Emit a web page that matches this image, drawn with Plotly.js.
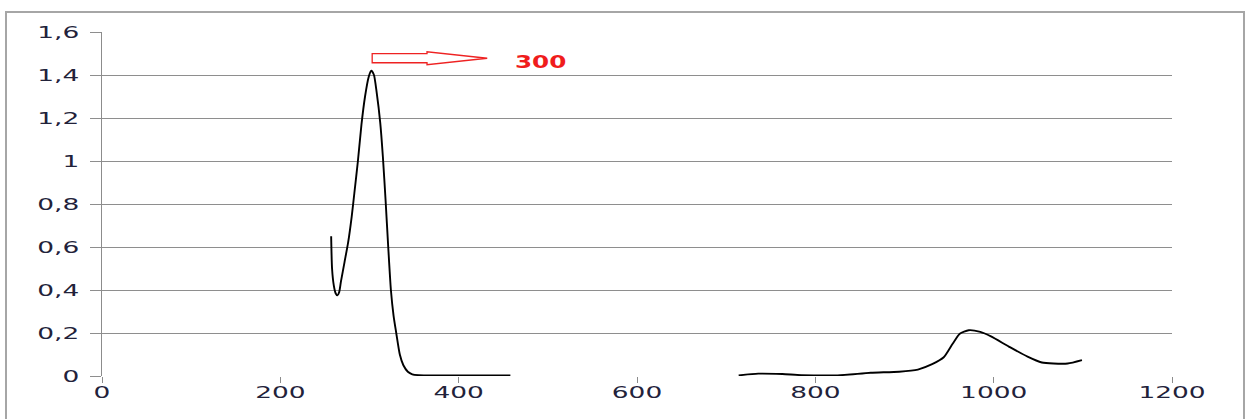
<!DOCTYPE html>
<html>
<head>
<meta charset="utf-8">
<script src="https://cdn.plot.ly/plotly-3.0.1.min.js"></script>
<style>
  html, body { margin: 0; padding: 0; background: #ffffff; }
  #chart { width: 1251px; height: 419px; }
  #chart g.xtick { transform-box: fill-box; transform-origin: 50% 50%; transform: translateY(-4px) scaleX(1.65); }
  #chart g.ytick { transform-box: fill-box; transform-origin: 100% 50%; transform: translateX(-7px) scaleX(1.65); }
  #chart g.annotation-text-g { transform-box: fill-box; transform-origin: 50% 50%; transform: scaleX(1.45); }
</style>
</head>
<body>
<div id="chart"></div>
<script>
// Wavelength (nm) and absorbance
const waveA = [257, 258, 260, 262, 264, 266, 268, 272, 276, 280, 283, 287, 291, 295, 299, 302, 305, 308, 312, 315, 318, 321, 324, 327, 330, 334, 338, 343, 348, 355, 380, 420, 458];
const absA  = [0.65, 0.50, 0.42, 0.385, 0.375, 0.39, 0.44, 0.53, 0.62, 0.74, 0.85, 1.00, 1.17, 1.30, 1.39, 1.42, 1.40, 1.32, 1.18, 1.02, 0.82, 0.60, 0.40, 0.28, 0.20, 0.10, 0.05, 0.02, 0.008, 0.004, 0.003, 0.002, 0.002];
const waveB = [714, 736, 763, 784, 825, 862, 894, 915, 931, 944, 954, 962, 972, 985, 997, 1017, 1038, 1054, 1067, 1083, 1099];
const absB  = [0.003, 0.011, 0.009, 0.004, 0.003, 0.015, 0.02, 0.03, 0.055, 0.087, 0.15, 0.197, 0.213, 0.205, 0.184, 0.137, 0.09, 0.063, 0.058, 0.058, 0.074];

const xTicks = [0, 200, 400, 600, 800, 1000, 1200];
const yTicks = [0, 0.2, 0.4, 0.6, 0.8, 1, 1.2, 1.4, 1.6];
const yTickLabels = ['0', '0,2', '0,4', '0,6', '0,8', '1', '1,2', '1,4', '1,6'];

const peakLabel = '300';
// block arrow (annotation) anchored next to the main peak, in data units
const arrowTail = 303, arrowNeck = 364.5, arrowTip = 432;
const arrowMid = 1.478, arrowBodyHalf = 0.021, arrowHeadHalf = 0.03;
const labelX = 492, labelY = 1.462;

const xs = waveA.concat([null], waveB);
const ys = absA.concat([null], absB);

const arrowPath = 'M ' + arrowTail + ' ' + (arrowMid + arrowBodyHalf) +
  ' L ' + arrowNeck + ' ' + (arrowMid + arrowBodyHalf) +
  ' L ' + arrowNeck + ' ' + (arrowMid + arrowHeadHalf) +
  ' L ' + arrowTip + ' ' + arrowMid +
  ' L ' + arrowNeck + ' ' + (arrowMid - arrowHeadHalf) +
  ' L ' + arrowNeck + ' ' + (arrowMid - arrowBodyHalf) +
  ' L ' + arrowTail + ' ' + (arrowMid - arrowBodyHalf) + ' Z';

const tickFont = { family: 'DejaVu Sans, sans-serif', size: 16, color: '#22223a' };

const data = [{
  x: xs, y: ys, type: 'scatter', mode: 'lines',
  connectgaps: false,
  line: { color: '#000000', width: 1.9, shape: 'spline', smoothing: 0.6 },
  hoverinfo: 'skip', showlegend: false
}];

const layout = {
  width: 1251, height: 419,
  margin: { l: 102, r: 79, t: 32, b: 43, pad: 0 },
  paper_bgcolor: '#ffffff', plot_bgcolor: '#ffffff',
  separators: ',.',
  showlegend: false,
  xaxis: {
    range: [0, 1200], tickvals: xTicks, ticktext: xTicks.map(String),
    showgrid: false, zeroline: false,
    showline: false,
    ticks: 'outside', ticklen: 6, tickwidth: 1, tickcolor: '#8c8c8c',
    tickfont: tickFont, fixedrange: true
  },
  yaxis: {
    range: [0, 1.6], tickvals: yTicks, ticktext: yTickLabels,
    showgrid: true, gridcolor: '#8e8e8e', gridwidth: 1,
    zeroline: false,
    showline: true, linecolor: '#8c8c8c', linewidth: 1.5,
    ticks: 'outside', ticklen: 11, tickwidth: 1, tickcolor: '#8e8e8e',
    tickfont: tickFont, fixedrange: true
  },
  shapes: [
    { type: 'path', xref: 'x', yref: 'y', path: arrowPath,
      line: { color: '#ee2222', width: 1.3 }, fillcolor: 'rgba(0,0,0,0)', layer: 'above' },
    { type: 'rect', xref: 'paper', yref: 'paper',
      x0: (6 - 102) / 1070, x1: (1244 - 102) / 1070, y0: -0.2, y1: 1 + 20 / 344,
      line: { color: '#a6a6a6', width: 2 }, fillcolor: 'rgba(0,0,0,0)', layer: 'below' }
  ],
  annotations: [{
    x: labelX, y: labelY, xref: 'x', yref: 'y', text: peakLabel, showarrow: false,
    font: { family: 'DejaVu Sans, sans-serif', size: 17, color: '#f01c1c', weight: 'bold' }
  }]
};

Plotly.newPlot('chart', data, layout, { staticPlot: true, displayModeBar: false });
</script>
</body>
</html>
